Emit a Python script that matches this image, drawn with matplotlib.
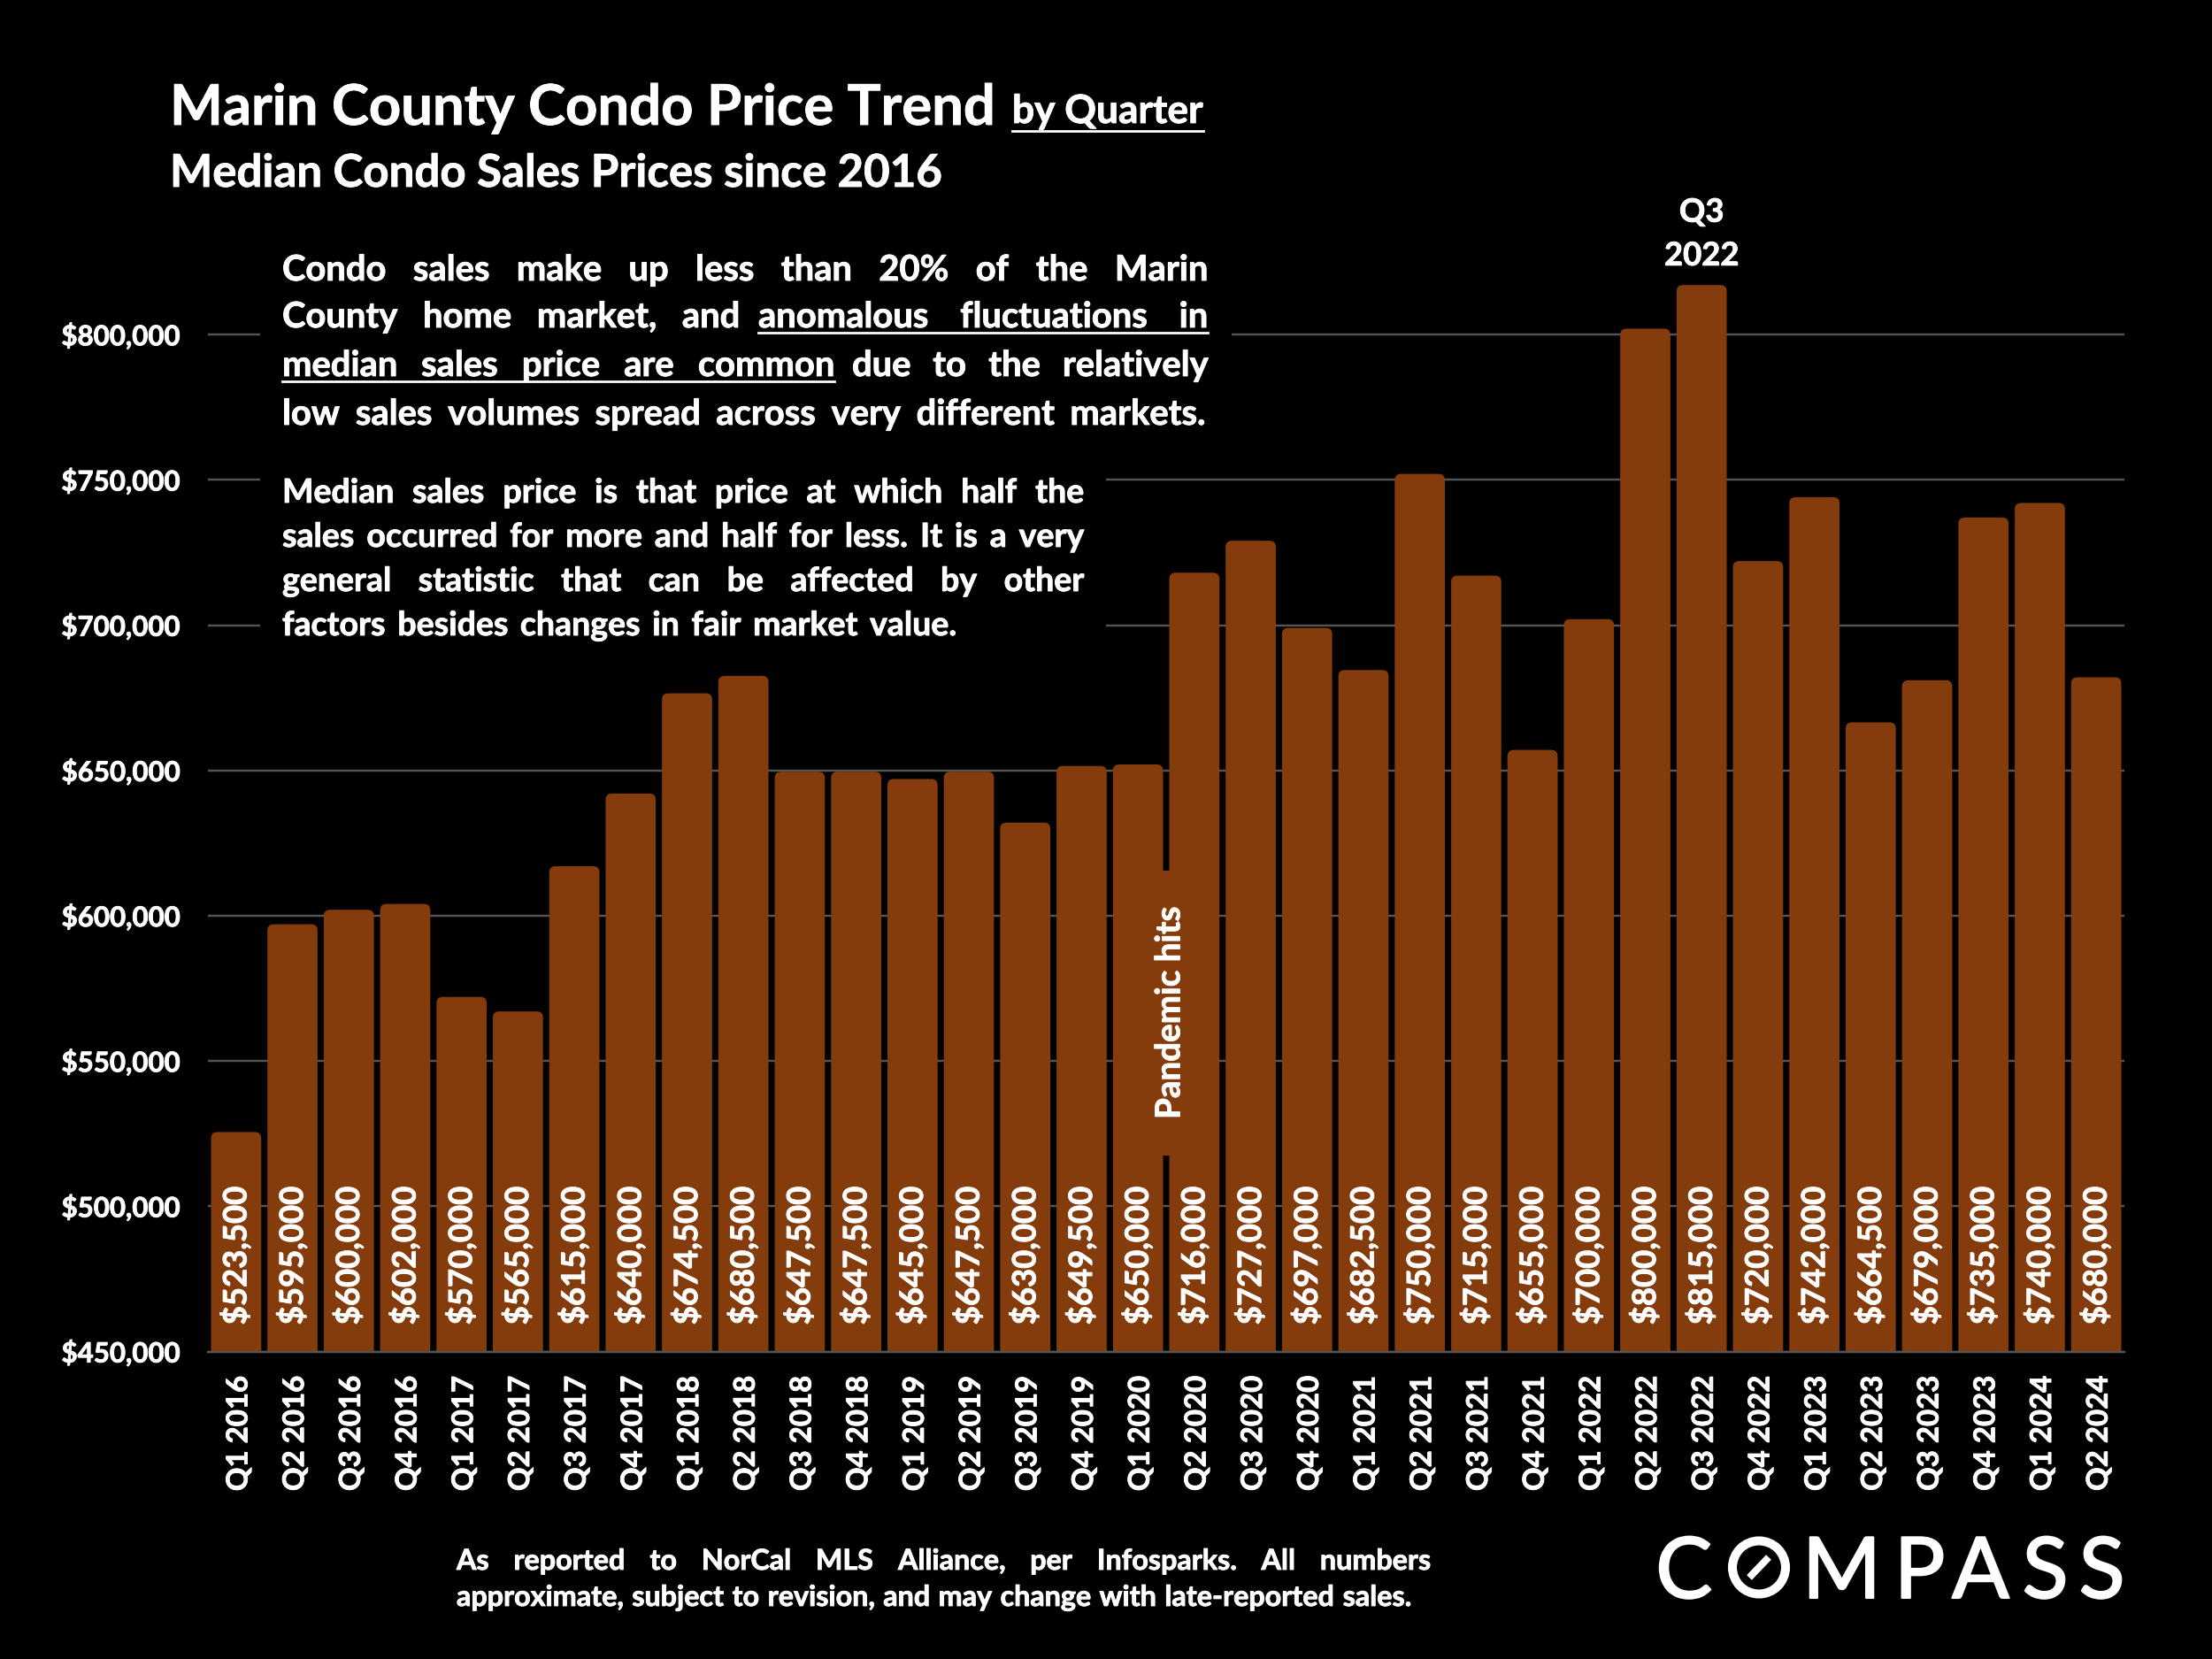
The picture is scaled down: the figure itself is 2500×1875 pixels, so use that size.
import matplotlib
matplotlib.use("Agg")
import matplotlib.pyplot as plt
import matplotlib.patheffects as pe
from matplotlib.font_manager import FontProperties
from matplotlib.patches import FancyBboxPatch, Rectangle, Ellipse
from matplotlib.lines import Line2D
from matplotlib.textpath import TextPath
from matplotlib.transforms import Affine2D

quarters = ["Q1 2016", "Q2 2016", "Q3 2016", "Q4 2016", "Q1 2017", "Q2 2017", "Q3 2017", "Q4 2017",
            "Q1 2018", "Q2 2018", "Q3 2018", "Q4 2018", "Q1 2019", "Q2 2019", "Q3 2019", "Q4 2019",
            "Q1 2020", "Q2 2020", "Q3 2020", "Q4 2020", "Q1 2021", "Q2 2021", "Q3 2021", "Q4 2021",
            "Q1 2022", "Q2 2022", "Q3 2022", "Q4 2022", "Q1 2023", "Q2 2023", "Q3 2023", "Q4 2023",
            "Q1 2024", "Q2 2024"]
median_prices = [523500, 595000, 600000, 602000, 570000, 565000, 615000, 640000,
                 674500, 680500, 647500, 647500, 645000, 647500, 630000, 649500,
                 650000, 716000, 727000, 697000, 682500, 750000, 715000, 655000,
                 700000, 800000, 815000, 720000, 742000, 664500, 679000, 735000,
                 740000, 680000]
y_ticks = [450000, 500000, 550000, 600000, 650000, 700000, 750000, 800000]

BAR_COLOR = "#843C0C"
GRID_COLOR = "#555555"
W, H = 2500, 1875
# Lato bold is a little thinner than the font of the reference
HEAVY = [pe.withStroke(linewidth=0.25, foreground="white")]

plt.rcParams["font.family"] = ["Lato", "DejaVu Sans"]
plt.rcParams["font.weight"] = "bold"

fig = plt.figure(figsize=(10, 7.5), dpi=250, facecolor="black")
# reference pixel coordinates, origin top left
px = Affine2D().scale(1, -1).translate(0, H)

axes = fig.add_axes([235 / W, (H - 1527.5) / H, (2401 - 235) / W, (1527.5 - 213.9) / H])
axes.set_facecolor("black")
axes.set_xlim(-0.5, 33.5)
axes.set_ylim(450000, 850000)

# Bars have a rounded outline of the same colour, so they stand a little above their value
aspect = 19397
for i, price in enumerate(median_prices):
    bar = FancyBboxPatch((i - 0.34, 450000), 0.68, price - 450000,
                         boxstyle="round,pad=0.105,rounding_size=0.11",
                         mutation_aspect=aspect, facecolor=BAR_COLOR, edgecolor="none", zorder=2)
    axes.add_patch(bar)
    axes.annotate(f"${price:,}", (i, 450000), xytext=(0, 8.7), textcoords="offset points",
                  rotation=90, ha="center", va="bottom", color="white", fontsize=10.5, zorder=4,
                  path_effects=HEAVY)

# Axes and grid
axes.set_yticks(y_ticks)
axes.set_yticklabels([f"${v:,}" for v in y_ticks], color="white", fontsize=9, path_effects=HEAVY)
axes.tick_params(axis="x", length=0)
axes.tick_params(axis="y", length=0, pad=9)
axes.grid(which="major", axis="y", color=GRID_COLOR, linewidth=0.7)
axes.set_axisbelow(True)
for side in ["top", "right", "left"]:
    axes.spines[side].set_visible(False)
axes.spines["bottom"].set_color(GRID_COLOR)
axes.spines["bottom"].set_linewidth(0.7)

# Quarter labels sit a touch right of the bar centres
axes.set_xticks(range(len(quarters)))
axes.set_xticklabels([])
for i, quarter in enumerate(quarters):
    axes.annotate(quarter, (i, 450000), xytext=(0.9, -7.8), textcoords="offset points", rotation=90,
                  ha="center", va="top", color="white", fontsize=9.5, path_effects=HEAVY,
                  annotation_clip=False)

# Annotations on the bars, the label bridges the gap between Q1 and Q2 2020
axes.add_patch(Rectangle((16.4, 517500), 0.22, 98000, facecolor=BAR_COLOR, edgecolor="none", zorder=3))
axes.text(16.56, 566600, "Pandemic hits", rotation=90, ha="center", va="center", color="white",
          fontsize=11.1, zorder=5, path_effects=HEAVY)
axes.text(26, 822000, "Q3\n2022", ha="center", va="bottom", color="white", fontsize=10.5,
          linespacing=1.6, path_effects=HEAVY)

# Black panels that hide the gridlines behind the notes
fig.add_artist(Rectangle((294, 262), 1098, 228, transform=px, facecolor="black", edgecolor="none"))
fig.add_artist(Rectangle((294, 530), 956, 200, transform=px, facecolor="black", edgecolor="none"))


def put_text(x, y, s, size, **kwargs):
    return fig.text(x, y, s, transform=px, color="white", fontsize=size, va="baseline",
                    path_effects=HEAVY, **kwargs)


def justified(line, x0, x1, y, size):
    """ Place the words of one line so they run exactly from x0 to x1 """
    renderer = fig.canvas.get_renderer()
    words = [put_text(x0, y, w, size) for w in line.split()]
    widths = [t.get_window_extent(renderer).width for t in words]
    gap = (x1 - x0 - sum(widths)) / (len(words) - 1)
    x = x0
    for t, width in zip(words, widths):
        t.set_x(x)
        x += width + gap


def underline(x0, x1, y, width=0.8):
    fig.add_artist(Line2D([x0, x1], [y, y], transform=px, color="white", linewidth=width))


# Title
put_text(192, 141, "Marin County Condo Price Trend", 18.25)
put_text(1144, 139, "by Quarter", 12.75)
underline(1144, 1360, 148)
put_text(192, 211, "Median Condo Sales Prices since 2016", 14.7)

# Notes
justified("Condo sales make up less than 20% of the Marin", 319, 1365, 317, 11.5)
justified("County home market, and", 319, 836, 370, 11.5)
justified("anomalous fluctuations in", 857, 1365, 370, 11.5)
justified("median sales price are common", 319, 943, 425, 11.5)
justified("due to the relatively", 963, 1365, 425, 11.5)
justified("low sales volumes spread across very different markets.", 319, 1362, 480, 11.5)
underline(857, 1365, 376)
underline(319, 943, 431)

note_2 = ["Median sales price is that price at which half the",
          "sales occurred for more and half for less. It is a very",
          "general statistic that can be affected by other",
          "factors besides changes in fair market value."]
for line, y, end in zip(note_2, [568, 618, 668, 718], [1225, 1225, 1225, 1081]):
    justified(line, 319, end, y, 10.8)

# Footer
justified("As reported to NorCal MLS Alliance, per Infosparks. All numbers", 516, 1617, 1774, 9.3)
justified("approximate, subject to revision, and may change with late-reported sales.", 516, 1595, 1815, 9.3)

# COMPASS logo, each letter centred by its ink
logo_size = 27.6
logo_font = FontProperties(family="Lato", weight="normal")
for letter, center in zip(["C", "M", "P", "A", "S", "S"], [1904.5, 2081.5, 2172.5, 2238.5, 2311, 2375]):
    ink = TextPath((0, 0), letter, size=logo_size * 250 / 72, prop=logo_font).get_extents()
    fig.text(center - (ink.x0 + ink.x1) / 2, 1806, letter, transform=px, color="white", fontsize=logo_size,
             weight="normal", ha="left", va="baseline",
             path_effects=[pe.withStroke(linewidth=0.6, foreground="white")])
fig.add_artist(Ellipse((1988, 1771.5), 60, 60, transform=px, facecolor="none", edgecolor="white", linewidth=2.9))
fig.add_artist(Line2D([1977, 1999], [1783, 1760], transform=px, color="white", linewidth=2.3,
                      solid_capstyle="butt"))

fig.savefig("out.png", dpi=250, facecolor="black")
plt.close()
